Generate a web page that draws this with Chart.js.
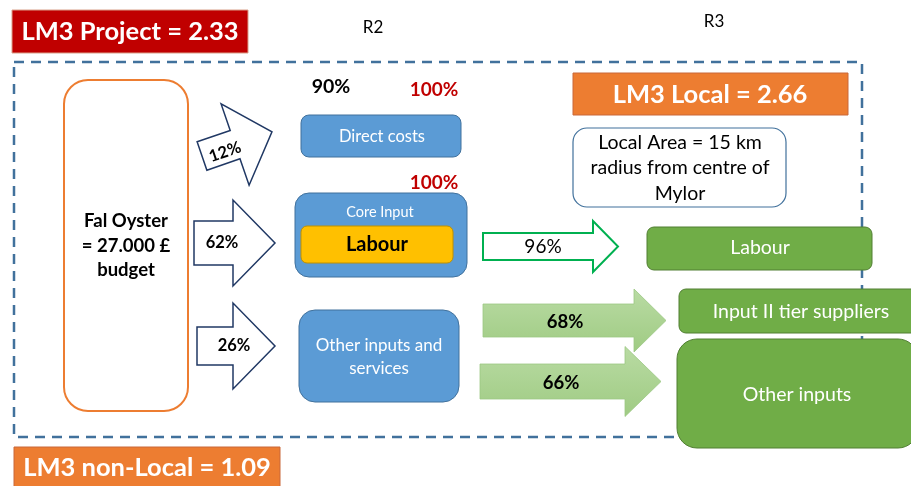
<!DOCTYPE html>
<html>
<head>
<meta charset="utf-8">
<script src="https://cdn.jsdelivr.net/npm/chart.js@4"></script>
<style>
html,body{margin:0;padding:0;background:#fff;overflow:hidden;}
#wrap{width:911px;height:486px;}
</style>
</head>
<body>
<div id="wrap"><canvas id="c" width="911" height="486"></canvas></div>
<script>
// ---- data ----
const lm3Labels = ['LM3 Project', 'LM3 Local', 'LM3 non-Local'];
const lm3Values = [2.33, 2.66, 1.09];
const roundLabels = ['R2', 'R3'];
const budgetLines = ['Fal Oyster', '= 27.000 £', 'budget'];
const r2Categories = ['Direct costs', 'Core Input', 'Other inputs and services'];
const r2CoreItem = 'Labour';
const r2Shares = [12, 62, 26];
const r2TopShare = [90];
const r2FullShares = [100, 100];
const r3Categories = ['Labour', 'Input II tier suppliers', 'Other inputs'];
const r3Shares = [96, 68, 66];
const localAreaLines = ['Local Area = 15 km', 'radius from centre of', 'Mylor'];

const FONT = 'Lato, "Open Sans", sans-serif';

const diagramPlugin = {
  id: 'diagram',
  afterDraw(chart) {
    const ctx = chart.ctx;
    const sx = chart.scales.x, sy = chart.scales.y;
    const X = v => sx.getPixelForValue(v);
    const Y = v => sy.getPixelForValue(v);
    const pct = v => v + '%';

    function rrect(x0, y0, x1, y1, r, fill, stroke, lw) {
      ctx.save();
      ctx.beginPath();
      ctx.roundRect(X(x0), Y(y0), X(x1) - X(x0), Y(y1) - Y(y0), r);
      if (fill) { ctx.fillStyle = fill; ctx.fill(); }
      if (stroke) { ctx.lineWidth = lw || 1; ctx.strokeStyle = stroke; ctx.stroke(); }
      ctx.restore();
    }
    function text(s, x, y, size, color, bold, angle) {
      ctx.save();
      ctx.translate(X(x), Y(y));
      if (angle) ctx.rotate(angle);
      ctx.font = (bold ? 'bold ' : '') + size + 'px ' + FONT;
      ctx.fillStyle = color;
      ctx.textAlign = 'center';
      ctx.textBaseline = 'middle';
      ctx.fillText(s, 0, 0);
      ctx.restore();
    }
    // arrow: back-centre (bx,by), length L, head base at hb, shaft half-width sw, head half-width hw
    function arrow(bx, by, L, hb, sw, hw, angle, fill, stroke, lw) {
      ctx.save();
      ctx.translate(X(bx), Y(by));
      ctx.rotate(angle || 0);
      ctx.beginPath();
      ctx.moveTo(0, -sw);
      ctx.lineTo(hb, -sw);
      ctx.lineTo(hb, -hw);
      ctx.lineTo(L, 0);
      ctx.lineTo(hb, hw);
      ctx.lineTo(hb, sw);
      ctx.lineTo(0, sw);
      ctx.closePath();
      if (fill === 'grad') {
        const g = ctx.createLinearGradient(0, -hw, 0, hw);
        g.addColorStop(0, '#b9dba3');
        g.addColorStop(1, '#9fcb83');
        ctx.fillStyle = g;
      } else ctx.fillStyle = fill;
      ctx.fill();
      if (stroke) { ctx.lineWidth = lw; ctx.strokeStyle = stroke; ctx.lineJoin = 'miter'; ctx.stroke(); }
      ctx.restore();
    }

    // dashed boundary of local area
    ctx.save();
    ctx.setLineDash([10, 7]);
    ctx.lineWidth = 2.5;
    ctx.strokeStyle = '#41719C';
    ctx.strokeRect(X(14), Y(62), X(862) - X(14), Y(437) - Y(62));
    ctx.restore();

    // LM3 headline boxes
    rrect(12, 10, 248, 53, 0, '#C00000', '#d9a08a', 1);
    text(lm3Labels[0] + ' = ' + lm3Values[0].toFixed(2), 130, 32, 25.5, '#fff', true);
    rrect(573, 73, 848, 115, 0, '#ED7D31', '#c9683a', 1);
    text(lm3Labels[1] + ' = ' + lm3Values[1].toFixed(2), 710, 95, 25.5, '#fff', true);
    rrect(14, 447, 280, 490, 0, '#ED7D31', '#c9683a', 1);
    text(lm3Labels[2] + ' = ' + lm3Values[2].toFixed(2), 147, 468, 25.5, '#fff', true);

    // round labels
    text(roundLabels[0], 373, 28, 17, '#000', false);
    text(roundLabels[1], 714, 22, 17, '#000', false);

    // budget box
    rrect(64, 80, 188, 411, 24, '#fff', '#ED7D31', 2);
    text(budgetLines[0], 126, 221, 18.5, '#000', true);
    text(budgetLines[1], 126, 246, 18.5, '#000', true);
    text(budgetLines[2], 126, 270, 18.5, '#000', true);

    // R2 arrows
    const ang12 = -19 * Math.PI / 180;
    arrow(202, 156, 74, 35, 15, 43, ang12, '#fff', '#203864', 1.5);
    text(pct(r2Shares[0]), 225, 152, 16.5, '#000', true, ang12);
    arrow(194, 243, 81, 39, 22, 43, 0, '#fff', '#203864', 1.5);
    text(pct(r2Shares[1]), 222, 243, 16.5, '#000', true);
    arrow(197, 346, 78, 36, 19, 43, 0, '#fff', '#203864', 1.5);
    text(pct(r2Shares[2]), 234, 346, 16.5, '#000', true);

    // R2 percentages
    text(pct(r2TopShare[0]), 331, 87, 19.5, '#000', true);
    text(pct(r2FullShares[0]), 434, 90, 19, '#C00000', true);
    text(pct(r2FullShares[1]), 434, 183, 19, '#C00000', true);

    // R2 boxes
    rrect(301, 115, 461, 157, 8, '#5B9BD5', '#41719C', 1);
    text(r2Categories[0], 382, 137, 16.5, '#fff', false);
    rrect(295, 193, 467, 277, 14, '#5B9BD5', '#41719C', 1);
    text(r2Categories[1], 380, 212, 14.5, '#fff', false);
    rrect(301, 226, 453, 263, 6, '#FFC000', '#BF9000', 1);
    text(r2CoreItem, 377, 245, 20, '#000', true);
    rrect(299, 310, 459, 402, 16, '#5B9BD5', '#41719C', 1);
    const oi = r2Categories[2].split(' and ');
    text(oi[0] + ' and', 379, 346, 17, '#fff', false);
    text(oi[1], 379, 369, 17, '#fff', false);

    // local area note
    rrect(573, 128, 786, 207, 14, '#fff', '#41719C', 1.2);
    text(localAreaLines[0], 680, 143, 19.5, '#000', false);
    text(localAreaLines[1], 680, 168, 19.5, '#000', false);
    text(localAreaLines[2], 680, 194, 19.5, '#000', false);

    // R3 arrows
    arrow(483, 246.5, 135, 110, 13.5, 25.5, 0, '#fff', '#00B050', 2);
    text(pct(r3Shares[0]), 543, 247, 19, '#000', false);
    arrow(483, 320.5, 183, 151, 16.5, 31.5, 0, 'grad', '#9cc884', 0.8);
    text(pct(r3Shares[1]), 565, 322, 18.5, '#000', true);
    arrow(480, 381.5, 181, 145, 17.5, 35, 0, 'grad', '#9cc884', 0.8);
    text(pct(r3Shares[2]), 561, 383, 18.5, '#000', true);

    // R3 boxes
    rrect(647, 227, 872, 270, 7, '#70AD47', '#507E32', 1);
    text(r3Categories[0], 760, 248, 19.5, '#fff', false);
    rrect(679, 289, 918, 333, 7, '#70AD47', '#507E32', 1);
    text(r3Categories[1], 801, 312, 19.5, '#fff', false);
    rrect(677, 339, 918, 448, 20, '#70AD47', '#507E32', 1);
    text(r3Categories[2], 797, 395, 19.5, '#fff', false);
  }
};

new Chart(document.getElementById('c'), {
  type: 'scatter',
  data: { datasets: [{ data: [], showLine: false }] },
  options: {
    responsive: false,
    animation: false,
    layout: { padding: 0 },
    plugins: { legend: { display: false }, tooltip: { enabled: false } },
    scales: {
      x: { type: 'linear', min: 0, max: 911, display: false },
      y: { type: 'linear', min: 0, max: 486, reverse: true, display: false }
    }
  },
  plugins: [diagramPlugin]
});
</script>
</body>
</html>
